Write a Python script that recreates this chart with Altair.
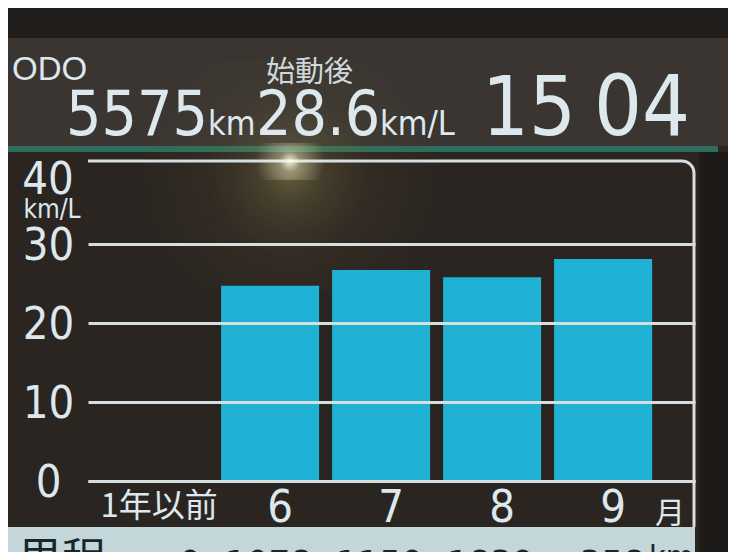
import altair as alt
import pandas as pd

# ---- data ----
categories = ["1年以前", "6", "7", "8", "9"]
fuel_economy = [0.0, 24.7, 26.7, 25.8, 28.1]          # km/L per month
distances = ["0", "1078", "1150", "1839", "358"]      # km per month
y_ticks = [0, 10, 20, 30]
odo_km = "5575"
since_start = "28.6"
clock_h = "15"
clock_m = "04"

df = pd.DataFrame({"cat": categories, "val": fuel_economy, "dist": distances})
one = pd.DataFrame({"a": [0]})

NARROW = "Liberation Sans Narrow, DejaVu Sans Condensed, sans-serif"
SANS = "Liberation Sans, DejaVu Sans, sans-serif"
CJK = "Noto Sans CJK JP"
TXT = "#dde8ee"
GRID = "#d6dee0"
BG = "#2b2521"
DARKTXT = "#18252a"


def P(x):  # reference x -> plot x
    return x - 88


def Q(y):  # reference y -> plot y
    return y - 165


xscale = alt.Scale(domain=categories, paddingInner=0.117, paddingOuter=0.2926, align=0.34)
yscale = alt.Scale(domain=[0, 40], nice=False, zero=True)
X = lambda **kw: alt.X("cat:N", scale=xscale, sort=categories, title=None, **kw)


def rect(x1, x2, y1, y2, color):
    return alt.Chart(one).mark_rect(color=color).encode(
        x=alt.value(P(x1)), x2=alt.value(P(x2)), y=alt.value(Q(y1)), y2=alt.value(Q(y2)))


def label(text, x, y, size, font=NARROW, color=TXT, align="left", baseline="alphabetic"):
    return alt.Chart(one).mark_text(
        text=text, font=font, fontSize=size, color=color, align=align, baseline=baseline
    ).encode(x=alt.value(P(x)), y=alt.value(Q(y)))


def radial(stops):
    return alt.Gradient(
        gradient="radial", x1=0.5, y1=0.5, r1=0, x2=0.5, y2=0.5, r2=0.5,
        stops=[alt.GradientStop(color=c, offset=o) for o, c in stops])


# background panels
top_dark = rect(0, 736, 0, 38, "#211d1b")
header = rect(0, 736, 38, 146, "#3a3531")
green = rect(0, 718, 146, 152, "#2f6d5c")
bezel = rect(699, 736, 152, 560, "#1e1a18")
light_band = rect(0, 695, 527, 560, "#c3d7da")
glow = alt.Chart(one).mark_rect(
    color=radial([(0, "rgba(170,160,90,0.45)"), (0.2, "rgba(150,140,80,0.25)"),
                  (0.55, "rgba(120,110,60,0.08)"), (1, "rgba(120,110,60,0)")])
).encode(x=alt.value(P(140)), x2=alt.value(P(440)), y=alt.value(Q(60)), y2=alt.value(Q(290)))

bars = alt.Chart(df).mark_bar(color="#1fb2d4").encode(
    x=X(axis=alt.Axis(labels=False, ticks=False, domain=True, domainColor=GRID,
                      domainWidth=3, grid=False, zindex=1)),
    y=alt.Y("val:Q", scale=yscale, title=None,
            axis=alt.Axis(values=y_ticks, grid=True, gridColor=GRID, gridWidth=3,
                          gridOpacity=1, domain=False, ticks=False, labelFont=NARROW,
                          labelFontSize=45, labelColor=TXT, labelAlign="center",
                          labelPadding=40, labelBaseline="middle", labelOverlap=False,
                          labelBound=False, labelFlush=False, labelOffset=1, zindex=1)),
)

# frame: top line, rounded corner, right side
top_line = alt.Chart(one).mark_rule(color=GRID, strokeWidth=3).encode(
    y=alt.value(Q(161)), x=alt.value(0), x2=alt.value(P(682)))
corner = alt.Chart(one).mark_arc(radius=13.5, radius2=10.5, theta=0, theta2=1.5708,
                                 color=GRID).encode(x=alt.value(P(682)), y=alt.value(Q(173)))
right_line = alt.Chart(one).mark_rule(color=GRID, strokeWidth=3).encode(
    x=alt.value(P(694)), y=alt.value(Q(173)), y2=alt.value(Q(527)))
spot = alt.Chart(one).mark_rect(
    color=radial([(0, "rgba(255,255,235,0.9)"), (0.3, "rgba(255,255,220,0.35)"),
                  (1, "rgba(255,255,220,0)")])
).encode(x=alt.value(P(255)), x2=alt.value(P(325)), y=alt.value(Q(143)), y2=alt.value(Q(180)))

# month labels
months = alt.Chart(df).transform_filter(alt.datum.cat != "1年以前").mark_text(
    font=NARROW, fontSize=45, color=TXT, dx=10, baseline="middle").encode(
    x=X(), y=alt.value(Q(508)), text="cat:N")
older = alt.Chart(df).transform_filter(alt.datum.cat == "1年以前").mark_text(
    font=CJK, fontSize=33, color=TXT, baseline="middle").encode(
    x=X(), y=alt.value(Q(507)), text="cat:N")
month_unit = label("月", 655, 523, 30, font=CJK)

# distance row
dist = alt.Chart(df).mark_text(
    font=NARROW, fontSize=38, color=DARKTXT, align="right", dx=42).encode(
    x=X(), y=alt.value(Q(566)), text="dist:N")
dist_title = label("里程", 18, 575, 44, font=CJK, color=DARKTXT)
dist_unit = label("km", 649, 568, 32, color=DARKTXT)

# y-axis extras
y40 = label("40", 48, 180, 45, align="center", baseline="middle")
y_unit = label("km/L", 52, 210, 26, align="center", baseline="middle")

# header
odo = label("ODO", 12, 80, 33, font=SANS)
odo_val = label(odo_km, 66, 135, 62)
odo_unit = label("km", 208, 135, 34)
start_lbl = label("始動後", 266, 82, 29, font=CJK, color="#cfd8dc")
start_val = label(since_start, 256, 135, 62)
start_unit = label("km/L", 380, 135, 34)
clk_h = label(clock_h, 482, 135, 82)
clk_m = label(clock_m, 594, 135, 84)

chart = alt.layer(
    top_dark, header, green, glow, bezel, light_band,
    bars, top_line, corner, right_line, spot,
    months, older, month_unit, dist, dist_title, dist_unit,
    y40, y_unit,
    odo, odo_val, odo_unit, start_lbl, start_val, start_unit, clk_h, clk_m,
).properties(
    width=607, height=316, autosize="none",
    padding={"left": 80, "top": 157, "right": 33, "bottom": 71},
    background=BG,
).configure_view(stroke=None)

chart.save("out.html", embed_options={"renderer": "svg", "actions": False})
